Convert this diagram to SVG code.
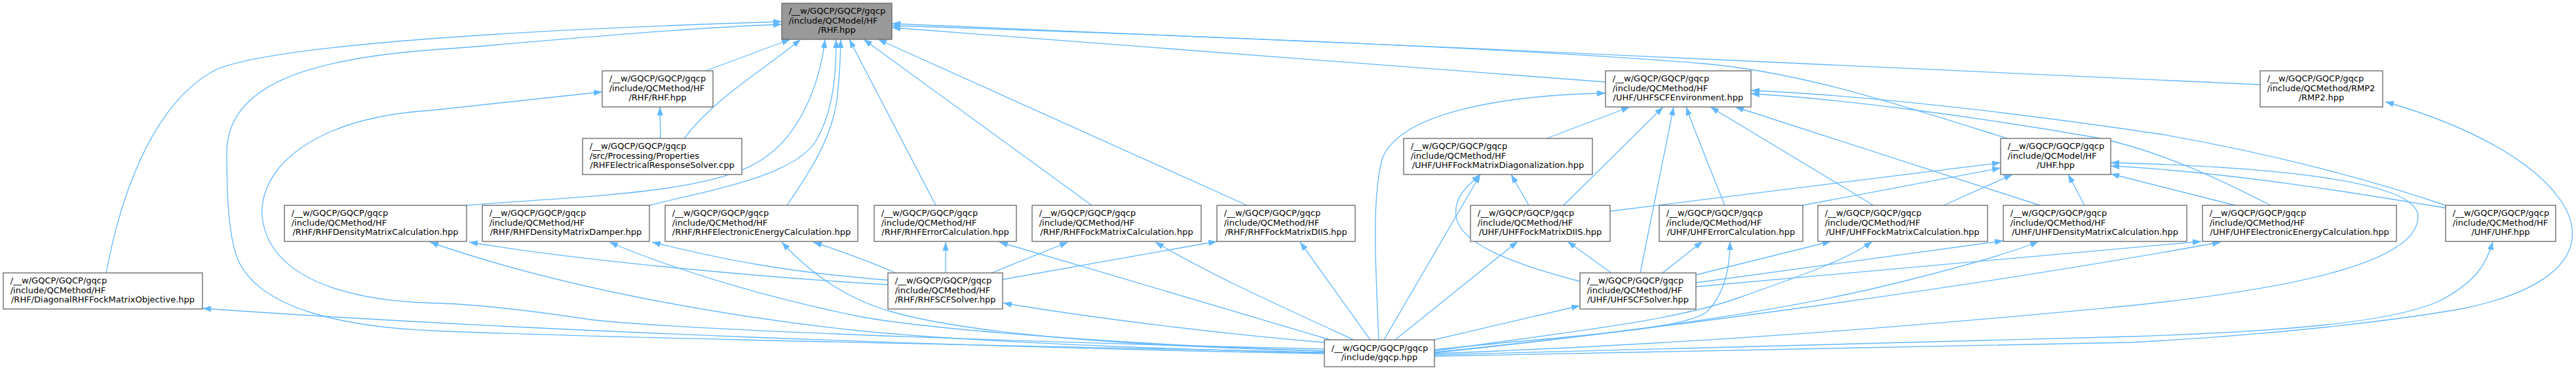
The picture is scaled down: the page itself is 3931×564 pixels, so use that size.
<svg xmlns="http://www.w3.org/2000/svg" width="3931" height="564" viewBox="0 0 3931 564">
<style>
.n rect{fill:#ffffff;stroke:#666666;stroke-width:1.33}
.r rect{fill:#999999;stroke:#666666;stroke-width:1.33}
text{font-family:"DejaVu Sans",sans-serif;font-size:13px;fill:#000000}
.m{text-anchor:middle}
#edges path{fill:none;stroke:#63b8ff;stroke-width:1.33;marker-end:url(#a)}
</style>
<defs>
<marker id="a" markerUnits="userSpaceOnUse" markerWidth="14" markerHeight="10" refX="13" refY="4.7" orient="auto">
<path d="M0,0 L13,4.7 L0,9.4 z" fill="#63b8ff"/>
</marker>
</defs>
<rect width="3931" height="564" fill="#ffffff"/>
<g id="edges">
<path d="M162,416 C180,320 225,160 330,106 C420,68 800,45 1193,33"/>
<path d="M2021,537 C1600,528 900,515 660,504 C520,498 400,470 365,400 C348,365 346,290 346,233 C346,130 470,90 660,76 C800,66 1000,45 1193,37"/>
<path d="M2021,532 C1700,525 1050,505 900,487 C800,472 720,463 660,462 C520,458 410,420 400,330 C395,260 470,180 660,168 L919,140"/>
<path d="M1077,108 L1206,60"/>
<path d="M1044,211 C1090,150 1160,110 1222,60"/>
<path d="M1008,211 L1007,163"/>
<path d="M712,313 C900,298 1080,295 1160,245 C1225,205 1252,120 1259,60"/>
<path d="M991,313 C1080,290 1210,270 1245,215 C1272,170 1276,110 1276,60"/>
<path d="M1201,313 C1230,270 1265,220 1276,160 C1282,120 1282,90 1283,60"/>
<path d="M1428,313 L1296,60"/>
<path d="M1666,313 L1318,60"/>
<path d="M1903,313 L1340,60"/>
<path d="M2450,125 L1361,42"/>
<path d="M3449,129 C3000,110 2000,60 1361,36"/>
<path d="M3063,211 C2900,160 2750,110 2600,97 C2300,72 1700,50 1361,39"/>
<path d="M2021,539 C1500,530 800,505 309,470"/>
<path d="M1355,434 C1200,425 900,400 716,369"/>
<path d="M1355,427 C1200,415 1100,395 995,369"/>
<path d="M1367,416 C1330,400 1290,385 1241,369"/>
<path d="M2021,535 C1800,530 1500,515 1360,475 C1290,455 1235,415 1193,369"/>
<path d="M2021,535 C1700,525 1400,500 1310,482 C1200,460 1050,420 930,369"/>
<path d="M2021,538 C1700,530 1450,518 1310,504 C1100,482 850,437 656,369"/>
<path d="M1443,416 L1443,369"/>
<path d="M2030,518 C1900,480 1700,420 1525,369"/>
<path d="M1513,416 L1630,369"/>
<path d="M2066,518 C1950,465 1850,420 1763,369"/>
<path d="M1530,426 L1857,368"/>
<path d="M2091,518 L1984,369"/>
<path d="M2021,522 C1900,512 1700,490 1531,462"/>
<path d="M2104,518 C2100,420 2092,300 2110,240 C2140,170 2300,145 2450,142"/>
<path d="M2360,211 L2487,163"/>
<path d="M2386,313 L2538,163"/>
<path d="M2503,416 L2554,163"/>
<path d="M2632,313 C2615,270 2590,210 2573,163"/>
<path d="M2859,313 L2610,163"/>
<path d="M3113,313 L2648,163"/>
<path d="M3465,313 C3400,280 3300,230 3200,210 C3000,175 2800,150 2672,143"/>
<path d="M3732,313 C3650,285 3500,240 3300,205 C3100,175 2850,145 2672,138"/>
<path d="M2411,429 C2300,400 2228,370 2222,330 C2218,300 2240,283 2259,266"/>
<path d="M2112,518 L2259,266"/>
<path d="M2333,313 L2306,266"/>
<path d="M2129,518 L2316,368"/>
<path d="M2459,416 L2392,368"/>
<path d="M2188,518 L2411,466"/>
<path d="M2537,416 L2598,368"/>
<path d="M2189,533 C2350,515 2570,505 2605,475 C2635,445 2640,400 2640,368"/>
<path d="M2588,419 L2794,368"/>
<path d="M2189,535 C2400,505 2550,490 2650,455 C2750,420 2820,395 2857,368"/>
<path d="M2588,431 L3057,367"/>
<path d="M2189,537 C2450,510 2700,480 2900,430 C3000,405 3070,385 3111,368"/>
<path d="M2588,437 L3359,368"/>
<path d="M2189,538 C2500,505 3000,440 3389,369"/>
<path d="M2457,322 L3053,248"/>
<path d="M2751,313 L3053,256"/>
<path d="M2966,313 L3071,266"/>
<path d="M3181,313 L3156,266"/>
<path d="M3411,313 L3221,265"/>
<path d="M3732,317 C3600,295 3400,262 3221,253"/>
<path d="M2189,539 C2700,520 3100,480 3250,466 C3500,440 3690,400 3690,330 C3690,280 3500,255 3221,248"/>
<path d="M2189,541 C2700,525 3100,515 3250,513 C3500,505 3650,490 3720,460 C3780,430 3795,400 3804,368"/>
<path d="M2189,543 C2700,530 3100,528 3250,522 C3450,512 3650,490 3760,470 C3880,445 3930,400 3925,350 C3920,290 3830,210 3640,155"/>
</g>
<g id="node0" class="r"><rect x="1193" y="5" width="168" height="55"/><text x="1203.7" y="21">/__w/GQCP/GQCP/gqcp</text><text x="1203.7" y="35.7">/include/QCModel/HF</text><text class="m" x="1277" y="50.4">/RHF.hpp</text></g>
<g id="node1" class="n"><rect x="5" y="416" width="304" height="55"/><text x="15.7" y="432">/__w/GQCP/GQCP/gqcp</text><text x="15.7" y="446.7">/include/QCMethod/HF</text><text class="m" x="157" y="461.4">/RHF/DiagonalRHFFockMatrixObjective.hpp</text></g>
<g id="node2" class="n"><rect x="919" y="108" width="169" height="55"/><text x="929.7" y="124">/__w/GQCP/GQCP/gqcp</text><text x="929.7" y="138.7">/include/QCMethod/HF</text><text class="m" x="1003.5" y="153.4">/RHF/RHF.hpp</text></g>
<g id="node3" class="n"><rect x="889" y="211" width="243" height="55"/><text x="899.7" y="227">/__w/GQCP/GQCP/gqcp</text><text x="899.7" y="241.7">/src/Processing/Properties</text><text class="m" x="1010.5" y="256.4">/RHFElectricalResponseSolver.cpp</text></g>
<g id="node4" class="n"><rect x="434" y="313" width="278" height="55"/><text x="444.7" y="329">/__w/GQCP/GQCP/gqcp</text><text x="444.7" y="343.7">/include/QCMethod/HF</text><text class="m" x="573" y="358.4">/RHF/RHFDensityMatrixCalculation.hpp</text></g>
<g id="node5" class="n"><rect x="736" y="313" width="255" height="55"/><text x="746.7" y="329">/__w/GQCP/GQCP/gqcp</text><text x="746.7" y="343.7">/include/QCMethod/HF</text><text class="m" x="863.5" y="358.4">/RHF/RHFDensityMatrixDamper.hpp</text></g>
<g id="node6" class="n"><rect x="1015" y="313" width="294" height="55"/><text x="1025.7" y="329">/__w/GQCP/GQCP/gqcp</text><text x="1025.7" y="343.7">/include/QCMethod/HF</text><text class="m" x="1162" y="358.4">/RHF/RHFElectronicEnergyCalculation.hpp</text></g>
<g id="node7" class="n"><rect x="1334" y="313" width="217" height="55"/><text x="1344.7" y="329">/__w/GQCP/GQCP/gqcp</text><text x="1344.7" y="343.7">/include/QCMethod/HF</text><text class="m" x="1442.5" y="358.4">/RHF/RHFErrorCalculation.hpp</text></g>
<g id="node8" class="n"><rect x="1575" y="313" width="258" height="55"/><text x="1585.7" y="329">/__w/GQCP/GQCP/gqcp</text><text x="1585.7" y="343.7">/include/QCMethod/HF</text><text class="m" x="1704" y="358.4">/RHF/RHFFockMatrixCalculation.hpp</text></g>
<g id="node9" class="n"><rect x="1857" y="313" width="211" height="55"/><text x="1867.7" y="329">/__w/GQCP/GQCP/gqcp</text><text x="1867.7" y="343.7">/include/QCMethod/HF</text><text class="m" x="1962.5" y="358.4">/RHF/RHFFockMatrixDIIS.hpp</text></g>
<g id="node10" class="n"><rect x="1355" y="416" width="175" height="55"/><text x="1365.7" y="432">/__w/GQCP/GQCP/gqcp</text><text x="1365.7" y="446.7">/include/QCMethod/HF</text><text class="m" x="1442.5" y="461.4">/RHF/RHFSCFSolver.hpp</text></g>
<g id="node11" class="n"><rect x="2450" y="108" width="222" height="55"/><text x="2460.7" y="124">/__w/GQCP/GQCP/gqcp</text><text x="2460.7" y="138.7">/include/QCMethod/HF</text><text class="m" x="2561" y="153.4">/UHF/UHFSCFEnvironment.hpp</text></g>
<g id="node12" class="n"><rect x="2142" y="211" width="288" height="55"/><text x="2152.7" y="227">/__w/GQCP/GQCP/gqcp</text><text x="2152.7" y="241.7">/include/QCMethod/HF</text><text class="m" x="2286" y="256.4">/UHF/UHFFockMatrixDiagonalization.hpp</text></g>
<g id="node13" class="n"><rect x="3053" y="211" width="168" height="55"/><text x="3063.7" y="227">/__w/GQCP/GQCP/gqcp</text><text x="3063.7" y="241.7">/include/QCModel/HF</text><text class="m" x="3137" y="256.4">/UHF.hpp</text></g>
<g id="node14" class="n"><rect x="2244" y="313" width="213" height="55"/><text x="2254.7" y="329">/__w/GQCP/GQCP/gqcp</text><text x="2254.7" y="343.7">/include/QCMethod/HF</text><text class="m" x="2350.5" y="358.4">/UHF/UHFFockMatrixDIIS.hpp</text></g>
<g id="node15" class="n"><rect x="2532" y="313" width="219" height="55"/><text x="2542.7" y="329">/__w/GQCP/GQCP/gqcp</text><text x="2542.7" y="343.7">/include/QCMethod/HF</text><text class="m" x="2641.5" y="358.4">/UHF/UHFErrorCalculation.hpp</text></g>
<g id="node16" class="n"><rect x="2774" y="313" width="259" height="55"/><text x="2784.7" y="329">/__w/GQCP/GQCP/gqcp</text><text x="2784.7" y="343.7">/include/QCMethod/HF</text><text class="m" x="2903.5" y="358.4">/UHF/UHFFockMatrixCalculation.hpp</text></g>
<g id="node17" class="n"><rect x="3057" y="313" width="280" height="55"/><text x="3067.7" y="329">/__w/GQCP/GQCP/gqcp</text><text x="3067.7" y="343.7">/include/QCMethod/HF</text><text class="m" x="3197" y="358.4">/UHF/UHFDensityMatrixCalculation.hpp</text></g>
<g id="node18" class="n"><rect x="3361" y="313" width="296" height="55"/><text x="3371.7" y="329">/__w/GQCP/GQCP/gqcp</text><text x="3371.7" y="343.7">/include/QCMethod/HF</text><text class="m" x="3509" y="358.4">/UHF/UHFElectronicEnergyCalculation.hpp</text></g>
<g id="node19" class="n"><rect x="3732" y="313" width="168" height="55"/><text x="3742.7" y="329">/__w/GQCP/GQCP/gqcp</text><text x="3742.7" y="343.7">/include/QCMethod/HF</text><text class="m" x="3816" y="358.4">/UHF/UHF.hpp</text></g>
<g id="node20" class="n"><rect x="2411" y="416" width="177" height="55"/><text x="2421.7" y="432">/__w/GQCP/GQCP/gqcp</text><text x="2421.7" y="446.7">/include/QCMethod/HF</text><text class="m" x="2499.5" y="461.4">/UHF/UHFSCFSolver.hpp</text></g>
<g id="node21" class="n"><rect x="2021" y="518" width="168" height="41"/><text x="2031.7" y="534.7">/__w/GQCP/GQCP/gqcp</text><text class="m" x="2105" y="549.4">/include/gqcp.hpp</text></g>
<g id="node22" class="n"><rect x="3449" y="108" width="187" height="55"/><text x="3459.7" y="124">/__w/GQCP/GQCP/gqcp</text><text x="3459.7" y="138.7">/include/QCMethod/RMP2</text><text class="m" x="3542.5" y="153.4">/RMP2.hpp</text></g>
</svg>
